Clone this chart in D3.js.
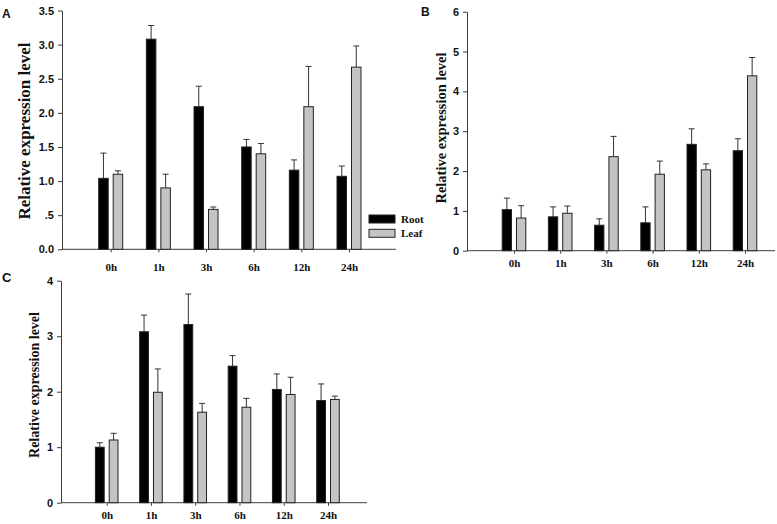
<!DOCTYPE html>
<html><head><meta charset="utf-8">
<script src="https://cdn.jsdelivr.net/npm/d3@7"></script>
<style>
html,body{margin:0;padding:0;background:#fff;}
svg{display:block;}
</style>
</head><body>
<svg id="chart" width="777" height="524"></svg>
<script>
// ---- data ----
const timePoints = ["0h", "1h", "3h", "6h", "12h", "24h"];
const seriesNames = ["Root", "Leaf"];

const rootA = [1.04, 3.08, 2.09, 1.50, 1.16, 1.07];
const rootErrA = [0.37, 0.20, 0.30, 0.11, 0.15, 0.15];
const leafA = [1.10, 0.90, 0.585, 1.40, 2.09, 2.67];
const leafErrA = [0.05, 0.20, 0.035, 0.15, 0.59, 0.31];

const rootB = [1.03, 0.85, 0.64, 0.70, 2.67, 2.51];
const rootErrB = [0.29, 0.25, 0.16, 0.40, 0.39, 0.30];
const leafB = [0.82, 0.94, 2.36, 1.92, 2.03, 4.39];
const leafErrB = [0.31, 0.18, 0.51, 0.33, 0.15, 0.46];

const rootC = [1.00, 3.08, 3.21, 2.46, 2.04, 1.84];
const rootErrC = [0.08, 0.30, 0.55, 0.19, 0.28, 0.30];
const leafC = [1.13, 1.99, 1.63, 1.72, 1.95, 1.86];
const leafErrC = [0.12, 0.42, 0.16, 0.16, 0.31, 0.06];

const yTicksA = [0, 0.5, 1, 1.5, 2, 2.5, 3, 3.5];
const yTickLabelsA = ["0.0", ".5", "1.0", "1.5", "2.0", "2.5", "3.0", "3.5"];
const yTicksB = [0, 1, 2, 3, 4, 5, 6];
const yTickLabelsB = ["0", "1", "2", "3", "4", "5", "6"];
const yTicksC = [0, 1, 2, 3, 4];
const yTickLabelsC = ["0", "1", "2", "3", "4"];

const yTitle = "Relative expression level";

// ---- layout ----
const panels = [
  {letter: "A", lx: 2, ly: 18, lsize: 12,
   axisX: 62, axisEnd: 396, y0: 249.3, yTop: 10.5, yMax: 3.5,
   c0: 110.7, c5: 349, bw: 9.5,
   ticks: yTicksA, labels: yTickLabelsA,
   root: rootA, rootErr: rootErrA, leaf: leafA, leafErr: leafErrA,
   titleX: 24, titleY: 131, titleSize: 17, xPad: 11},
  {letter: "B", lx: 421, ly: 16, lsize: 12,
   axisX: 467, axisEnd: 775, y0: 250.7, yTop: 11.7, yMax: 6,
   c0: 514, c5: 745, bw: 9.3,
   ticks: yTicksB, labels: yTickLabelsB,
   root: rootB, rootErr: rootErrB, leaf: leafB, leafErr: leafErrB,
   titleX: 441, titleY: 128, titleSize: 14.5, xPad: 6},
  {letter: "C", lx: 2, ly: 282, lsize: 13,
   axisX: 61, axisEnd: 367, y0: 502.7, yTop: 280.7, yMax: 4,
   c0: 106.7, c5: 328, bw: 8.8,
   ticks: yTicksC, labels: yTickLabelsC,
   root: rootC, rootErr: rootErrC, leaf: leafC, leafErr: leafErrC,
   titleX: 34, titleY: 385, titleSize: 14, xPad: 6}
];

const svg = d3.select("#chart");
const axisColor = "#3a3a3a";
const leafFill = "#c4c4c4";

panels.forEach(p => {
  const g = svg.append("g");
  const y = d3.scaleLinear().domain([0, p.yMax]).range([p.y0, p.yTop]);
  const x = d3.scalePoint().domain(timePoints).range([p.c0, p.c5]);
  const off = 2.5;

  // y axis
  const yAxis = d3.axisLeft(y).tickValues(p.ticks)
    .tickFormat((d, i) => p.labels[i]).tickSize(4).tickSizeOuter(0).tickPadding(4);
  const ya = g.append("g").attr("transform", `translate(${p.axisX},0)`).call(yAxis);
  ya.select(".domain").attr("stroke", axisColor);
  ya.selectAll(".tick line").attr("stroke", axisColor);
  ya.selectAll("text").attr("font-family", "Liberation Sans, Arial, sans-serif")
    .attr("font-weight", "bold").attr("font-size", 11).attr("fill", "#111");

  // x axis
  const xAxis = d3.axisBottom(x).tickSize(3).tickSizeOuter(0).tickPadding(p.xPad);
  const xa = g.append("g").attr("transform", `translate(0,${p.y0})`).call(xAxis);
  xa.select(".domain").remove();
  xa.append("line").attr("x1", p.axisX).attr("x2", p.axisEnd)
    .attr("y1", 0).attr("y2", 0).attr("stroke", axisColor);
  xa.selectAll(".tick line").attr("stroke", axisColor);
  xa.selectAll("text").attr("font-family", "Liberation Serif, Times New Roman, serif")
    .attr("font-weight", "bold").attr("font-size", 11).attr("fill", "#111");

  // bars
  const series = [
    {vals: p.root, errs: p.rootErr, dx: -off - p.bw, fill: "#000"},
    {vals: p.leaf, errs: p.leafErr, dx: off, fill: leafFill}
  ];
  series.forEach(s => {
    const rows = timePoints.map((t, i) => ({t, v: s.vals[i], e: s.errs[i]}));
    const eg = g.append("g");
    eg.selectAll("line.v").data(rows).join("line")
      .attr("x1", d => x(d.t) + s.dx + p.bw / 2).attr("x2", d => x(d.t) + s.dx + p.bw / 2)
      .attr("y1", d => y(d.v)).attr("y2", d => y(d.v + d.e))
      .attr("stroke", "#333").attr("stroke-width", 1);
    eg.selectAll("line.c").data(rows).join("line")
      .attr("x1", d => x(d.t) + s.dx + p.bw / 2 - 3).attr("x2", d => x(d.t) + s.dx + p.bw / 2 + 3)
      .attr("y1", d => y(d.v + d.e)).attr("y2", d => y(d.v + d.e))
      .attr("stroke", "#333").attr("stroke-width", 1);
    g.append("g").selectAll("rect").data(rows).join("rect")
      .attr("x", d => x(d.t) + s.dx).attr("width", p.bw)
      .attr("y", d => y(d.v)).attr("height", d => y(0) - y(d.v))
      .attr("fill", s.fill).attr("stroke", "#222").attr("stroke-width", 1);
  });

  // y title
  g.append("text")
    .attr("transform", `translate(${p.titleX},${p.titleY}) rotate(-90)`)
    .attr("text-anchor", "middle").attr("dominant-baseline", "central")
    .attr("font-family", "Liberation Serif, Times New Roman, serif")
    .attr("font-weight", "bold").attr("font-size", p.titleSize).attr("fill", "#111")
    .text(yTitle);

  // panel letter
  g.append("text").attr("x", p.lx).attr("y", p.ly)
    .attr("font-family", "Liberation Sans, Arial, sans-serif")
    .attr("font-weight", "bold").attr("font-size", p.lsize).attr("fill", "#111")
    .text(p.letter);
});

// legend (panel A)
const legendFills = ["#000", leafFill];
const lg = svg.append("g");
seriesNames.forEach((name, i) => {
  lg.append("rect").attr("x", 369).attr("y", 215 + i * 14.3).attr("width", 26).attr("height", 8)
    .attr("fill", legendFills[i]).attr("stroke", "#222").attr("stroke-width", 1);
  lg.append("text").attr("x", 401).attr("y", 223 + i * 14.3)
    .attr("font-family", "Liberation Serif, Times New Roman, serif")
    .attr("font-weight", "bold").attr("font-size", 11).attr("fill", "#111")
    .text(name);
});
</script>
</body></html>
